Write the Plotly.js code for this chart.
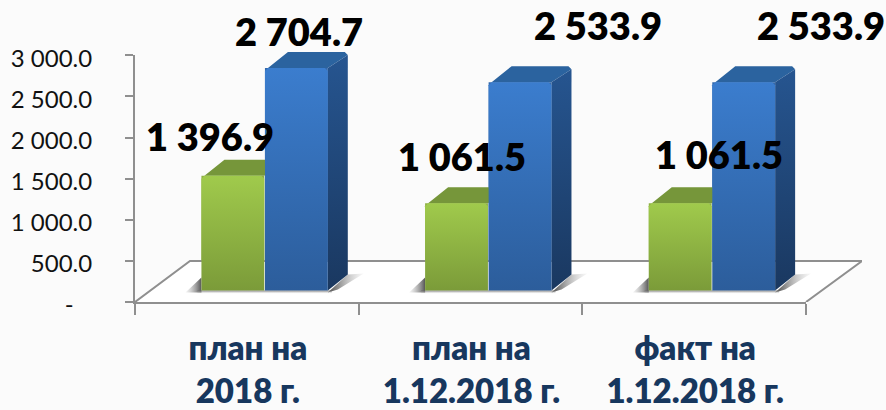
<!DOCTYPE html>
<html><head><meta charset="utf-8">
<script src="https://cdn.plot.ly/plotly-3.0.1.min.js"></script>
<style>html,body{margin:0;padding:0;background:#fbfbfb}</style>
</head><body><div id="chart" style="width:886px;height:410px"></div>
<script>
const categories = ['план на<br>2018 г.', 'план на<br>1.12.2018 г.', 'факт на<br>1.12.2018 г.'];
const greenValues = [1396.9, 1061.5, 1061.5];
const blueValues = [2704.7, 2533.9, 2533.9];
const yTickVals = [0, 500, 1000, 1500, 2000, 2500, 3000];
const yTickText = ['-\u00a0\u00a0\u00a0', '500.0', '1 000.0', '1 500.0', '2 000.0', '2 500.0', '3 000.0'];
const labelFont = 'Lato, "Open Sans", sans-serif';
// layout in pixels
const W = 886, H = 410, X0 = 135, X1 = 806, X2 = 862, Y0 = 302, Y3000 = 55.3;
const unitPx = (X1 - X0) / 3, valPx = (Y0 - Y3000) / 3000;
const pxX = p => (p - X0) / unitPx - 0.5, pxY = p => (Y0 - p) / valPx;
const dX = 20 / unitPx, dY = 16 / valPx, lift = 11.5 / valPx, chamX = 3 / unitPx, chamY = 3 / valPx;
const greenOff = -0.203, blueOff = 0.081, barW = 0.281;
const labelPx = [[210, 141], [299, 36], [462, 161], [598, 30], [719, 159], [821, 30]];

const traces = [];
const main = {xaxis: 'x', yaxis: 'y'}, over = {xaxis: 'x2', yaxis: 'y2'};
// library bars (front faces)
traces.push({type: 'bar', ...main, x: categories, y: greenValues, base: greenValues.map(() => lift), width: barW, offset: greenOff, marker: {color: '#8eb043'}, hoverinfo: 'skip', name: 'g'});
traces.push({type: 'bar', ...main, x: categories, y: blueValues, base: blueValues.map(() => lift), width: barW, offset: blueOff, marker: {color: '#3268ac'}, hoverinfo: 'skip', name: 'b'});

function poly(xs, ys, fill, grad) {
  const t = {type: 'scatter', ...over, mode: 'lines', x: xs.concat(xs[0]), y: ys.concat(ys[0]), fill: 'toself', line: {width: 0, color: 'rgba(0,0,0,0)'}, hoverinfo: 'skip'};
  if (grad) { t.fillgradient = grad; } else { t.fillcolor = fill; }
  traces.push(t);
}
function vgrad(top, bottom) { return {type: 'vertical', colorscale: [[0, bottom], [1, top]]}; }
function hgrad(left, right) { return {type: 'horizontal', colorscale: [[0, left], [1, right]]}; }
// floor
poly([pxX(X0), pxX(190), pxX(X2), pxX(X1)], [0, pxY(261), pxY(261), 0], '#ffffff');
function floorLine(xs, ys) {
  traces.push({type: 'scatter', ...over, mode: 'lines', x: xs, y: ys, line: {color: '#8f8f8f', width: 2}, hoverinfo: 'skip'});
}
floorLine([pxX(X0), pxX(190), pxX(X2), pxX(X1)], [0, pxY(261), pxY(261), 0]);
// shadows
categories.forEach((c, i) => {
  const l = i + greenOff, r = i + blueOff + barW;
  poly([l - 16 / unitPx, l, l], [lift - 2 / valPx, lift - 2 / valPx, lift + 13 / valPx], null, hgrad('rgba(170,170,170,0.1)', 'rgba(85,85,85,1)'));
  poly([r, r + 20 / unitPx, r + 36 / unitPx, r + 10 / unitPx, r], [lift - 2 / valPx, lift + 16 / valPx, lift + 17 / valPx, lift + 1 / valPx, lift - 2 / valPx], null, hgrad('rgba(70,70,70,1)', 'rgba(190,190,190,0.1)'));
  poly([l - 4 / unitPx, r + 4 / unitPx, r + 4 / unitPx, l - 4 / unitPx], [lift, lift, lift - 3 / valPx, lift - 3 / valPx], null, vgrad('rgba(110,110,110,0.9)', 'rgba(210,210,210,0.1)'));
});
function face(l, w, v, top, frontTop, frontBot, sideTop, sideBot, withSide) {
  const yb = lift, yt = lift + v, r = l + w;
  poly([l + chamX, l + dX + chamX, r + dX - chamX, r + dX, r - 0, l], [yt, yt + dY, yt + dY, yt + dY - chamY, yt, yt], top);
  if (withSide) poly([r, r + dX, r + dX, r], [yt, yt + dY - chamY, yb + dY, yb], null, vgrad(sideTop, sideBot));
  poly([l, l + chamX, r - chamX, r, r, l], [yt - chamY, yt, yt, yt - chamY, yb, yb], null, vgrad(frontTop, frontBot));
}
categories.forEach((c, i) => {
  face(i + greenOff, barW, greenValues[i], '#76963a', '#a0ca4c', '#7b9b39', '', '', false);
  face(i + blueOff, barW, blueValues[i], '#2b639f', '#3b7dce', '#2c5d9b', '#265590', '#1a3860', true);
});
// value labels
const fmt = v => { const s = v.toFixed(1); const [a, b] = s.split('.'); return a.replace(/\B(?=(\d{3})+$)/g, ' ') + '.' + b; };
const allVals = [];
greenValues.forEach((v, i) => { allVals.push(v, blueValues[i]); });
traces.push({type: 'scatter', ...over, mode: 'text', cliponaxis: false, x: labelPx.map(p => pxX(p[0])), y: labelPx.map(p => pxY(p[1])), text: allVals.map(fmt), textposition: 'middle center', textfont: {family: labelFont, size: 38, color: '#000', weight: 800}, hoverinfo: 'skip'});

const layout = {
  width: W, height: H, showlegend: false, paper_bgcolor: '#fbfbfb', plot_bgcolor: 'rgba(0,0,0,0)',
  margin: {l: 0, r: 0, t: 0, b: 0}, barmode: 'overlay',
  xaxis: {type: 'category', domain: [X0 / W, X1 / W], range: [-0.5, 2.5], tickson: 'boundaries', ticks: 'outside', ticklen: 11, tickwidth: 2, tickcolor: '#8f8f8f', showline: true, linecolor: '#8f8f8f', linewidth: 2, showgrid: false, zeroline: false, anchor: 'y', automargin: false, tickangle: 0, ticklabelstandoff: 16, ticklabelshift: 1,
    tickfont: {family: labelFont, size: 33, color: '#17375e', weight: 800}},
  yaxis: {domain: [(H - Y0) / H, (H - Y3000) / H], range: [0, 3000], tickmode: 'array', tickvals: yTickVals, ticktext: yTickText, ticks: 'outside', ticklen: 8, tickwidth: 2, tickcolor: '#8f8f8f', showline: true, linecolor: '#8f8f8f', linewidth: 2, showgrid: false, zeroline: false, anchor: 'x', automargin: false, ticklabelstandoff: 28, ticklabelshift: 3,
    tickfont: {family: labelFont, size: 24, color: '#111'}},
  xaxis2: {domain: [X0 / W, X2 / W], range: [-0.5, pxX(X2)], visible: false, anchor: 'y2', fixedrange: true},
  yaxis2: {domain: [(H - Y0) / H, 1], range: [0, pxY(0)], visible: false, anchor: 'x2', fixedrange: true}
};
Plotly.newPlot('chart', traces, layout, {displayModeBar: false, responsive: false});
</script></body></html>
